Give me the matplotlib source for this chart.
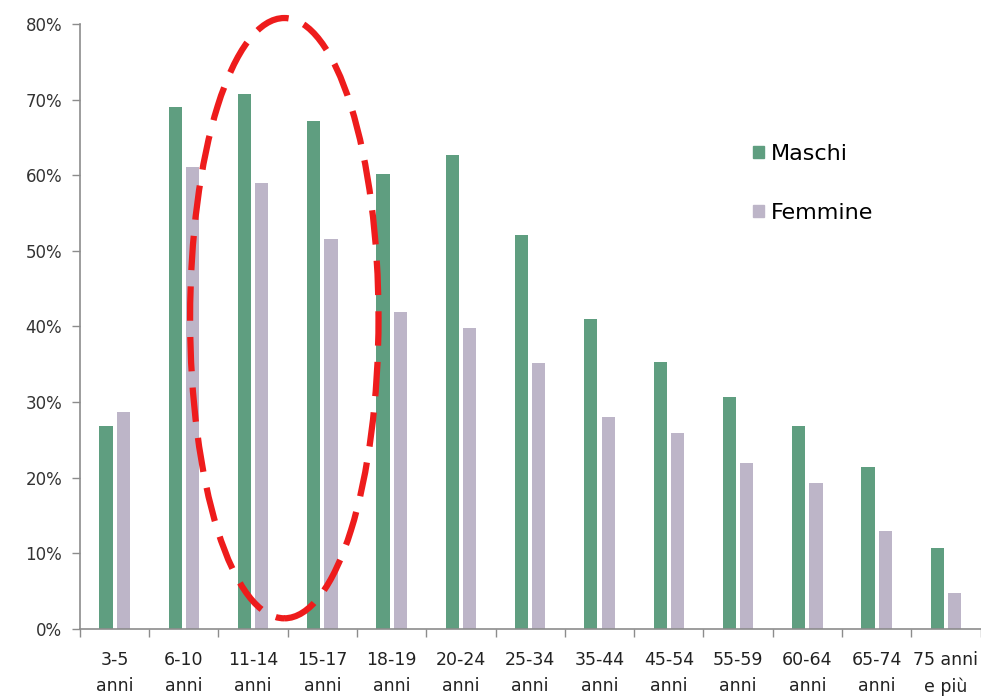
import numpy as np
import matplotlib.pyplot as plt
from matplotlib.patches import Ellipse, Patch

# age groups and share (%) for each sex
categories = ["3-5\nanni", "6-10\nanni", "11-14\nanni", "15-17\nanni", "18-19\nanni",
              "20-24\nanni", "25-34\nanni", "35-44\nanni", "45-54\nanni", "55-59\nanni",
              "60-64\nanni", "65-74\nanni", "75 anni\ne più"]
maschi = [26.9, 69.0, 70.8, 67.2, 60.2, 62.7, 52.1, 41.0, 35.3, 30.7, 26.8, 21.4, 10.7]
femmine = [28.7, 61.1, 59.0, 51.6, 41.9, 39.8, 35.2, 28.0, 25.9, 22.0, 19.3, 13.0, 4.8]

GREEN = "#5f9e80"
LILAC = "#bdb5c8"
AXIS = "#8c8c8c"

fig = plt.figure(figsize=(9.81, 6.98), dpi=100)
ax = fig.add_axes([0.0815, 0.099, 0.918, 0.8665])

x = np.arange(len(categories))
w = 0.19
ax.bar(x - 0.125, maschi, width=w, color=GREEN, label="Maschi", zorder=2)
ax.bar(x + 0.125, femmine, width=w, color=LILAC, label="Femmine", zorder=2)

ax.set_xlim(-0.5, len(categories) - 0.5)
ax.set_ylim(0, 80)
ax.set_yticks(np.arange(0, 81, 10))
ax.set_yticklabels([f"{v}%" for v in range(0, 81, 10)], fontsize=12, color="#333333")

ax.set_xticks(x)
ax.set_xticklabels(categories, fontsize=12.5, color="#222222", linespacing=1.55)
ax.set_xticks(np.arange(-0.5, len(categories), 1), minor=True)
ax.tick_params(axis="x", which="major", length=0, pad=16)
ax.tick_params(axis="x", which="minor", length=6, color=AXIS, width=1, direction="out")
ax.tick_params(axis="y", length=5.8, color=AXIS, width=1, pad=7)

for side in ("top", "right"):
    ax.spines[side].set_visible(False)
for side in ("left", "bottom"):
    ax.spines[side].set_color(AXIS)
    ax.spines[side].set_linewidth(1.2)

# highlight on the 11-17 age groups
ell = Ellipse((2.45, 41.1), width=2.72, height=79.4, fill=False, edgecolor="#ee1c1c",
              linewidth=4.5, linestyle=(0, (5.5, 2.6)), clip_on=False, zorder=5)
ax.add_patch(ell)

handles = [Patch(color=GREEN, label="Maschi"), Patch(color=LILAC, label="Femmine")]
ax.legend(handles=handles, loc="upper left", bbox_to_anchor=(0.725, 0.835), frameon=False,
          fontsize=16, handlelength=0.5, handleheight=0.5, handletextpad=0.3,
          labelspacing=1.75)

fig.savefig("out.png", dpi=100)
